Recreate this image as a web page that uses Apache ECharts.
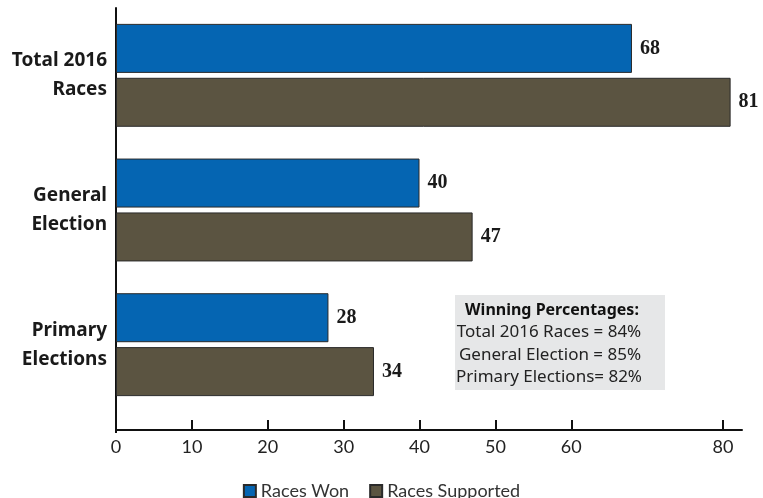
<!DOCTYPE html>
<html>
<head>
<meta charset="utf-8">
<script src="https://cdn.jsdelivr.net/npm/echarts@6/dist/echarts.min.js"></script>
<style>
html,body{margin:0;padding:0;background:#fff;}
#chart{width:763px;height:498px;}
</style>
</head>
<body>
<div id="chart"></div>
<script>
const categories = ['Total 2016\nRaces', 'General\nElection', 'Primary\nElections'];
const racesWon = [68, 40, 28];
const racesSupported = [81, 47, 34];
const tickValues = [0, 10, 20, 30, 40, 50, 60, 80];
const boxTitle = 'Winning Percentages:';
const boxLines = ['Total 2016 Races = 84%', 'General Election = 85%', 'Primary Elections= 82%'];

const chart = echarts.init(document.getElementById('chart'));
const labelStyle = {
  show: true, position: 'right', distance: 8,
  fontFamily: 'Liberation Serif', fontWeight: 'bold', fontSize: 20, color: '#1a1a1a'
};
chart.setOption({
  animation: false,
  backgroundColor: '#fff',
  grid: { left: 116, top: 8, width: 626, height: 404, containLabel: false },
  legend: {
    top: 477, left: 'center', icon: 'rect', itemWidth: 12, itemHeight: 12, itemGap: 20,
    textStyle: { fontFamily: 'Lato', fontSize: 18, color: '#333' },
    data: ['Races Won', 'Races Supported']
  },
  xAxis: {
    type: 'value', min: 0, max: 82.5, offset: 18,
    axisLine: { show: true, lineStyle: { color: '#111', width: 2 } },
    axisTick: { show: true, inside: true, length: 10, lineStyle: { color: '#111', width: 2 }, customValues: tickValues },
    axisLabel: { fontFamily: 'Lato', fontSize: 18, color: '#222', margin: 8, customValues: tickValues },
    splitLine: { show: false }
  },
  yAxis: {
    type: 'category', inverse: true, data: categories,
    axisLine: { show: true, lineStyle: { color: '#111', width: 2 } },
    axisTick: { show: false },
    axisLabel: { fontFamily: 'Noto Sans', fontWeight: 'bold', fontSize: 19, lineHeight: 29, color: '#1a1a1a', margin: 9, align: 'right' }
  },
  series: [
    {
      name: 'Races Won', type: 'bar', data: racesWon, barWidth: 49, barGap: '10%',
      itemStyle: { color: '#0565B2', borderColor: '#2a2a2a', borderWidth: 1 },
      label: labelStyle
    },
    {
      name: 'Races Supported', type: 'bar', data: racesSupported, barWidth: 49,
      itemStyle: { color: '#5B5441', borderColor: '#2a2a2a', borderWidth: 1 },
      label: labelStyle
    }
  ],
  graphic: [
    { type: 'line', shape: { x1: 116, y1: 410, x2: 116, y2: 433 }, style: { stroke: '#111', lineWidth: 2 } },
    {
      type: 'group', left: 455, top: 295,
      children: [
        { type: 'rect', shape: { x: 0, y: 0, width: 210, height: 95 }, style: { fill: '#E6E7E8' } },
        { type: 'text', x: 97, y: 7, style: { text: boxTitle, textAlign: 'center', fontFamily: 'Noto Sans', fontWeight: 'bold', fontSize: 16, fill: '#111' } },
        { type: 'text', x: 94, y: 29, style: { text: boxLines[0], textAlign: 'center', fontFamily: 'Noto Sans', fontSize: 17, fill: '#222' } },
        { type: 'text', x: 95, y: 52, style: { text: boxLines[1], textAlign: 'center', fontFamily: 'Noto Sans', fontSize: 17, fill: '#222' } },
        { type: 'text', x: 94, y: 74, style: { text: boxLines[2], textAlign: 'center', fontFamily: 'Noto Sans', fontSize: 17, fill: '#222' } }
      ]
    }
  ]
});
</script>
</body>
</html>
